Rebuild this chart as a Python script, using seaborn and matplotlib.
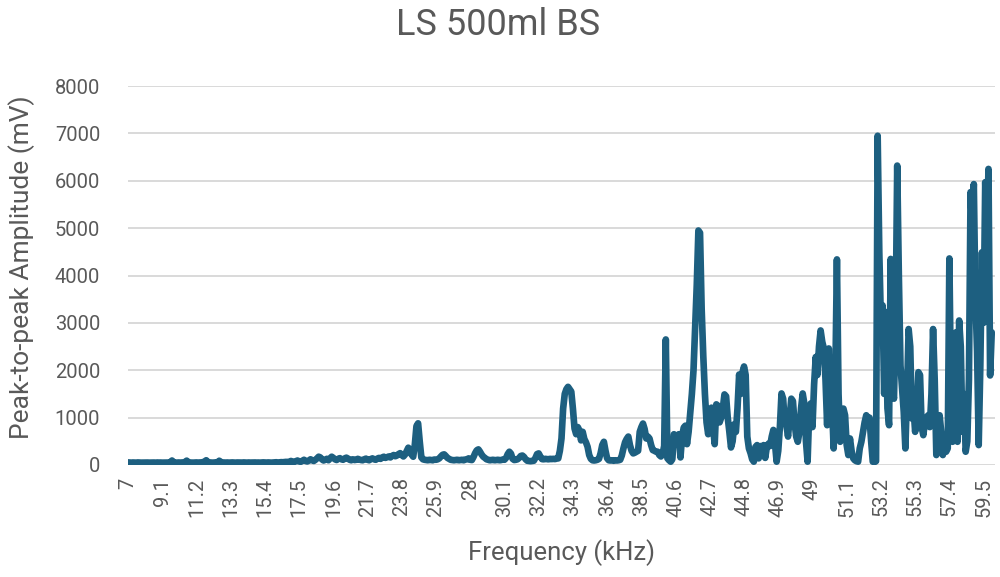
import numpy as np
import pandas as pd
import matplotlib
matplotlib.use("Agg")
import matplotlib.pyplot as plt
import seaborn as sns

# ---- data (one row per kHz, 0.1 kHz steps) ----
freq_start_khz = 7.0
freq_step_khz = 0.1

amp_7_16 = [
    55, 52, 50, 53, 51, 50, 54, 52, 50, 51,
    50, 53, 52, 50, 51, 54, 52, 50, 53, 51,
    52, 50, 51, 54, 55, 52, 60, 95, 58, 52,
    50, 53, 51, 52, 55, 62, 92, 60, 52, 51,
    50, 52, 54, 51, 53, 55, 60, 75, 100, 62,
    54, 52, 50, 53, 55, 58, 90, 62, 54, 52,
    51, 53, 50, 52, 54, 51, 50, 53, 52, 50,
    51, 54, 52, 50, 53, 51, 52, 55, 53, 51,
    52, 50, 53, 55, 52, 51, 54, 52, 50, 53,
    55, 58, 52, 56, 60, 58, 62, 66, 60, 70,
]
amp_17_26 = [
    85, 70, 65, 80, 95, 75, 68, 90, 110, 85,
    75, 95, 120, 100, 85, 110, 140, 175, 160, 120,
    95, 110, 130, 100, 140, 175, 150, 120, 105, 130,
    145, 120, 110, 140, 155, 135, 110, 100, 120, 105,
    110, 130, 115, 105, 100, 120, 135, 110, 100, 125,
    140, 120, 110, 135, 150, 130, 160, 175, 150, 165,
    180, 160, 190, 210, 185, 200, 230, 250, 210, 180,
    220, 290, 365, 300, 220, 175, 430, 820, 880, 500,
    160, 120, 110, 105, 100, 110, 105, 100, 115, 110,
    120, 140, 180, 215, 225, 190, 150, 130, 110, 105,
]
amp_27_36 = [
    100, 105, 110, 100, 105, 110, 100, 115, 120, 140,
    110, 105, 170, 250, 310, 330, 280, 220, 175, 150,
    120, 110, 100, 105, 110, 100, 105, 110, 100, 105,
    115, 110, 150, 230, 280, 240, 130, 105, 110, 120,
    150, 190, 200, 170, 120, 90, 85, 80, 85, 90,
    150, 230, 245, 180, 125, 120, 130, 125, 120, 130,
    125, 130, 125, 135, 140, 300, 560, 1190, 1500, 1600,
    1650, 1600, 1550, 1190, 770, 650, 800, 730, 520, 700,
    550, 480, 385, 210, 130, 100, 95, 100, 110, 130,
    250, 420, 490, 300, 140, 100, 95, 100, 90, 100,
]
amp_37_46 = [
    95, 100, 110, 200, 350, 480, 550, 600, 420, 300,
    245, 260, 280, 300, 700, 800, 875, 760, 560, 600,
    560, 420, 315, 300, 280, 280, 210, 180, 230, 400,
    2650, 140, 100, 70, 120, 650, 580, 620, 650, 160,
    600, 790, 830, 440, 700, 1100, 1500, 2000, 2900, 3800,
    4950, 4900, 3300, 2300, 1500, 900, 650, 900, 1210, 800,
    440, 1280, 1250, 900, 1000, 1200, 1490, 1450, 1000, 700,
    370, 500, 860, 700, 1200, 1910, 1500, 1950, 2080, 1900,
    600, 350, 250, 120, 70, 380, 420, 140, 400, 350,
    420, 150, 380, 450, 400, 600, 740, 450, 70, 300,
]
amp_47_56 = [
    800, 1510, 1400, 900, 840, 600, 1000, 1400, 1350, 900,
    600, 490, 700, 1200, 1510, 1300, 500, 70, 1125, 1300,
    800, 1700, 2280, 1900, 2500, 2840, 2600, 2460, 1800, 840,
    2460, 1300, 1250, 350, 1800, 4340, 1500, 490, 1000, 1190,
    1050, 420, 210, 560, 300, 140, 100, 80, 70, 350,
    490, 700, 900, 1050, 980, 1000, 500, 70, 60, 80,
    6950, 4500, 3000, 3370, 1500, 3230, 1200, 840, 4350, 1610,
    1400, 3000, 6320, 4000, 2100, 1600, 1120, 350, 1500, 2870,
    2500, 980, 1200, 700, 1100, 1960, 1900, 800, 630, 900,
    1000, 1050, 800, 1500, 2870, 1800, 210, 600, 1050, 700,
]
amp_57_60 = [
    210, 400, 280, 350, 4360, 1500, 490, 1200, 2800, 490,
    3050, 2500, 700, 1500, 280, 500, 1800, 5760, 5000, 5930,
    3500, 2400, 420, 2100, 4490, 3000, 5970, 4800, 6250, 1890,
    2800,
]

amplitude_mv = amp_7_16 + amp_17_26 + amp_27_36 + amp_37_46 + amp_47_56 + amp_57_60
frequency_khz = np.round(freq_start_khz + freq_step_khz * np.arange(len(amplitude_mv)), 1)

x_tick_labels = ["7", "9.1", "11.2", "13.3", "15.4", "17.5", "19.6", "21.7", "23.8",
                 "25.9", "28", "30.1", "32.2", "34.3", "36.4", "38.5", "40.6", "42.7",
                 "44.8", "46.9", "49", "51.1", "53.2", "55.3", "57.4", "59.5"]
y_ticks = [0, 1000, 2000, 3000, 4000, 5000, 6000, 7000, 8000]

title_text = "LS 500ml BS"
x_label = "Frequency (kHz)"
y_label = "Peak-to-peak Amplitude (mV)"

# ---- style ----
sns.set_theme(style="white")
plt.rcParams["font.family"] = ["Roboto", "DejaVu Sans"]
text_color = "#595959"
line_color = "#1d5f80"
grid_color = "#d9d9d9"

W, H = 1000, 577
fig, ax = plt.subplots(figsize=(W / 100, H / 100), dpi=100)
fig.subplots_adjust(left=128 / W, right=995 / W, top=1 - 86 / H, bottom=1 - 465 / H)

df = pd.DataFrame({"freq": frequency_khz, "amp": amplitude_mv})
sns.lineplot(data=df, x="freq", y="amp", ax=ax, color=line_color, linewidth=4.8,
             estimator=None, sort=False, solid_joinstyle="round", solid_capstyle="round")

ax.set_xlim(7.0, 60.2)
ax.set_ylim(0, 8000)
ax.set_yticks(y_ticks)
ax.set_yticklabels([str(v) for v in y_ticks])
ax.set_xticks([float(t) for t in x_tick_labels])
ax.set_xticklabels(x_tick_labels, rotation=90)

ax.grid(axis="y", color=grid_color, linewidth=1.4)
ax.grid(axis="x", visible=False)
ax.set_axisbelow(True)
for s in ax.spines.values():
    s.set_visible(False)

ax.tick_params(axis="both", length=0, colors=text_color, labelsize=14.5)
ax.tick_params(axis="y", pad=20)
ax.tick_params(axis="x", pad=9)
ax.set_xlabel("")
ax.set_ylabel("")

fig.text(498 / W, 1 - 25 / H, title_text, ha="center", va="center",
         fontsize=26, color=text_color)
fig.text(562 / W, 1 - 553 / H, x_label, ha="center", va="center",
         fontsize=18.5, color=text_color)
fig.text(22 / W, 1 - 267 / H, y_label, ha="center", va="center", rotation=90,
         fontsize=19, color=text_color)

fig.savefig("out.png", dpi=100)
